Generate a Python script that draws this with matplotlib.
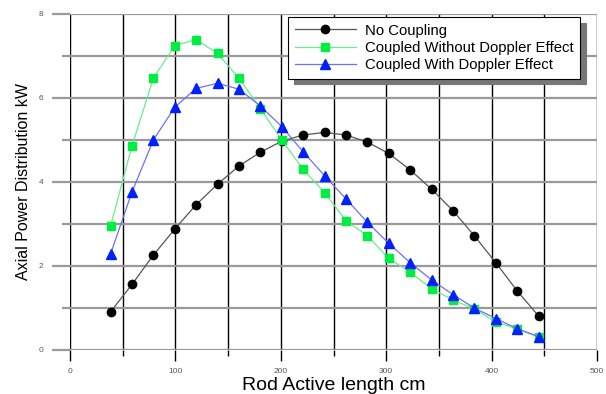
import numpy as np
import matplotlib
matplotlib.use("Agg")
import matplotlib.pyplot as plt
from matplotlib.ticker import MultipleLocator

plt.rcParams['font.family'] = ['Liberation Sans', 'DejaVu Sans']

# rod positions (cm)
x_pos = [38.5, 58.8, 79.1, 99.4, 119.7, 140.0, 160.3, 180.6, 200.9, 221.2, 241.5,
         261.8, 282.1, 302.4, 322.7, 343.0, 363.3, 383.6, 403.9, 424.2, 444.5]

no_coupling = [0.91, 1.56, 2.26, 2.88, 3.46, 3.95, 4.38, 4.71, 4.97, 5.12, 5.18,
               5.12, 4.95, 4.68, 4.29, 3.83, 3.32, 2.72, 2.08, 1.41, 0.81]
coupled_no_doppler = [2.95, 4.86, 6.47, 7.25, 7.39, 7.06, 6.47, 5.75, 5.00, 4.30, 3.75,
                      3.08, 2.72, 2.18, 1.85, 1.46, 1.19, 0.98, 0.67, 0.50, 0.31]
coupled_doppler = [2.29, 3.76, 5.00, 5.78, 6.23, 6.35, 6.21, 5.81, 5.32, 4.72, 4.15,
                   3.60, 3.04, 2.54, 2.08, 1.67, 1.32, 1.00, 0.75, 0.51, 0.32]

fig = plt.figure(figsize=(6.06, 3.94), dpi=100)
ax = fig.add_axes([70 / 606, 44 / 394, 527 / 606, 336 / 394])

ax.plot(x_pos, no_coupling, color='#555555', lw=0.9, marker='o', ms=6,
        mfc='black', mec='black', label='No Coupling', zorder=3)
ax.plot(x_pos, coupled_no_doppler, color='#66f08a', lw=0.9, marker='s', ms=6,
        mfc='#00ee44', mec='#00ee44', label='Coupled Without Doppler Effect', zorder=3)
ax.plot(x_pos, coupled_doppler, color='#6f6ff5', lw=0.9, marker='^', ms=6.5,
        mfc='#0020ff', mec='#0020ff', label='Coupled With Doppler Effect', zorder=4)

ax.set_xlim(0, 500)
ax.set_ylim(0, 8)
ax.xaxis.set_major_locator(MultipleLocator(100))
ax.xaxis.set_minor_locator(MultipleLocator(50))
ax.yaxis.set_major_locator(MultipleLocator(2))
ax.yaxis.set_minor_locator(MultipleLocator(1))

for s in ax.spines.values():
    s.set_visible(False)

ax.grid(axis='x', which='both', color='black', lw=1.0, zorder=1)
ax.grid(axis='y', which='both', color='#9a9a9a', lw=1.6, zorder=1)
ax.tick_params(axis='x', which='major', length=8, width=1.0, color='black',
               labelsize=6, labelcolor='#555555', pad=5)
ax.tick_params(axis='x', which='minor', length=4, width=1.0, color='black')
ax.tick_params(axis='y', which='major', length=13, width=1.6, color='#9a9a9a',
               labelsize=6, labelcolor='#555555', pad=6)
ax.tick_params(axis='y', which='minor', length=6, width=1.6, color='#9a9a9a')
ax.set_axisbelow(True)

ax.set_xlabel('Rod Active length cm', fontsize=14, va='baseline')
ax.xaxis.set_label_coords(0.5, -39.5 / 336)
ax.set_ylabel('Axial Power Distribution kW', fontsize=11.5, labelpad=6)

leg = ax.legend(loc='upper left', bbox_to_anchor=(288 / 606, 377 / 394),
                bbox_transform=fig.transFigure, fontsize=10.7, frameon=True,
                fancybox=False, shadow={'ox': 4, 'oy': -4, 'color': '#777777', 'alpha': 1},
                edgecolor='black', handlelength=4.1, handletextpad=0.6,
                labelspacing=0.22, borderpad=0.45, borderaxespad=0, framealpha=1)
leg.get_frame().set_linewidth(0.8)

plt.savefig('out.png', dpi=100)
